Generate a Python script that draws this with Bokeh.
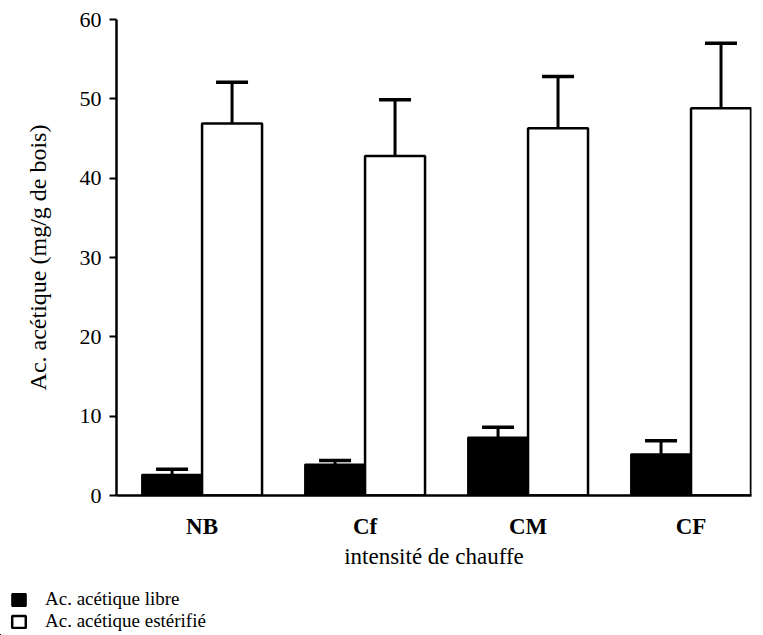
from bokeh.plotting import figure
from bokeh.models import (ColumnDataSource, Range1d, FixedTicker, Whisker, TeeHead,
                          Legend, LegendItem)
from bokeh.embed import file_html
from bokeh.resources import INLINE

categories = ["NB", "Cf", "CM", "CF"]
libre = [2.6, 3.9, 7.3, 5.2]
libre_err = [0.7, 0.5, 1.3, 1.7]
esterifie = [46.9, 42.8, 46.3, 48.8]
esterifie_err = [5.2, 7.1, 6.5, 8.2]
y_ticks = [0, 10, 20, 30, 40, 50, 60]
series_names = ["Ac. acétique libre", "Ac. acétique estérifié"]

FONT = "Liberation Serif"
BW = 0.368
idx = list(range(len(categories)))

src_l = ColumnDataSource(dict(
    x=[i - BW / 2 for i in idx], top=libre,
    upper=[v + e for v, e in zip(libre, libre_err)]))
src_e = ColumnDataSource(dict(
    x=[i + BW / 2 for i in idx], top=esterifie,
    upper=[v + e for v, e in zip(esterifie, esterifie_err)]))

p = figure(width=763, height=585, output_backend="svg", toolbar_location=None,
           x_range=Range1d(-0.525, 3.371), y_range=Range1d(0, 60),
           min_border_left=116, min_border_right=12, min_border_top=19,
           min_border_bottom=90)
p.outline_line_color = None
p.grid.visible = False

for src in (src_l, src_e):
    w = Whisker(source=src, base="x", lower="top", upper="upper",
                line_color="black", line_width=3,
                upper_head=TeeHead(size=32, line_width=3.5, line_color="black"),
                lower_head=None)
    p.add_layout(w)

bar_l = dict(fill_color="black", line_color="black", line_width=2)
bar_e = dict(fill_color="white", line_color="black", line_width=2.5)
p.vbar(x="x", top="top", width=BW, bottom=0, source=src_l, **bar_l)
p.vbar(x="x", top="top", width=BW, bottom=0, source=src_e, **bar_e)

# y axis
ya = p.yaxis[0]
ya.ticker = FixedTicker(ticks=y_ticks)
ya.minor_tick_line_color = None
ya.major_tick_out = 7
ya.major_tick_in = 0
ya.major_tick_line_width = 2
ya.axis_line_width = 2.5
ya.major_label_text_font = FONT
ya.major_label_text_font_size = "22px"
ya.major_label_text_color = "black"
ya.major_label_standoff = 8
ya.axis_label = "Ac. acétique (mg/g de bois)"
ya.axis_label_text_font = FONT
ya.axis_label_text_font_size = "24px"
ya.axis_label_text_font_style = "normal"
ya.axis_label_text_color = "black"
ya.axis_label_standoff = 26

# x axis
xa = p.xaxis[0]
xa.ticker = FixedTicker(ticks=idx)
xa.major_label_overrides = {i: c for i, c in zip(idx, categories)}
xa.minor_tick_line_color = None
xa.major_tick_line_color = None
xa.axis_line_width = 2.5
xa.major_label_text_font = FONT
xa.major_label_text_font_size = "23px"
xa.major_label_text_font_style = "bold"
xa.major_label_text_color = "black"
xa.major_label_standoff = 12
xa.axis_label = "intensité de chauffe"
xa.axis_label_text_font = FONT
xa.axis_label_text_font_size = "23px"
xa.axis_label_text_font_style = "normal"
xa.axis_label_text_color = "black"
xa.axis_label_standoff = 2

# legend strip below the chart (separate root so it is not frame-aligned)
p2 = figure(width=763, height=50, output_backend="svg", toolbar_location=None,
            x_range=Range1d(100, 101), y_range=Range1d(100, 101),
            x_axis_type=None, y_axis_type=None,
            min_border_left=0, min_border_right=0, min_border_top=0,
            min_border_bottom=0)
p2.grid.visible = False
p2.outline_line_color = None
g_l = p2.vbar(x="x", top="top", width=BW, bottom=0, source=src_l, **bar_l)
g_e = p2.vbar(x="x", top="top", width=BW, bottom=0, source=src_e, **bar_e)
legend = Legend(items=[LegendItem(label=series_names[0], renderers=[g_l]),
                       LegendItem(label=series_names[1], renderers=[g_e])],
                location=(10, 3), orientation="vertical",
                margin=0, padding=0, spacing=0,
                glyph_width=17, glyph_height=15, label_standoff=18,
                label_height=16,
                label_text_font=FONT, label_text_font_size="19px",
                label_text_color="black",
                border_line_alpha=0, background_fill_alpha=0)
p2.add_layout(legend, "center")

open("out.html", "w").write(file_html([p, p2], INLINE))
